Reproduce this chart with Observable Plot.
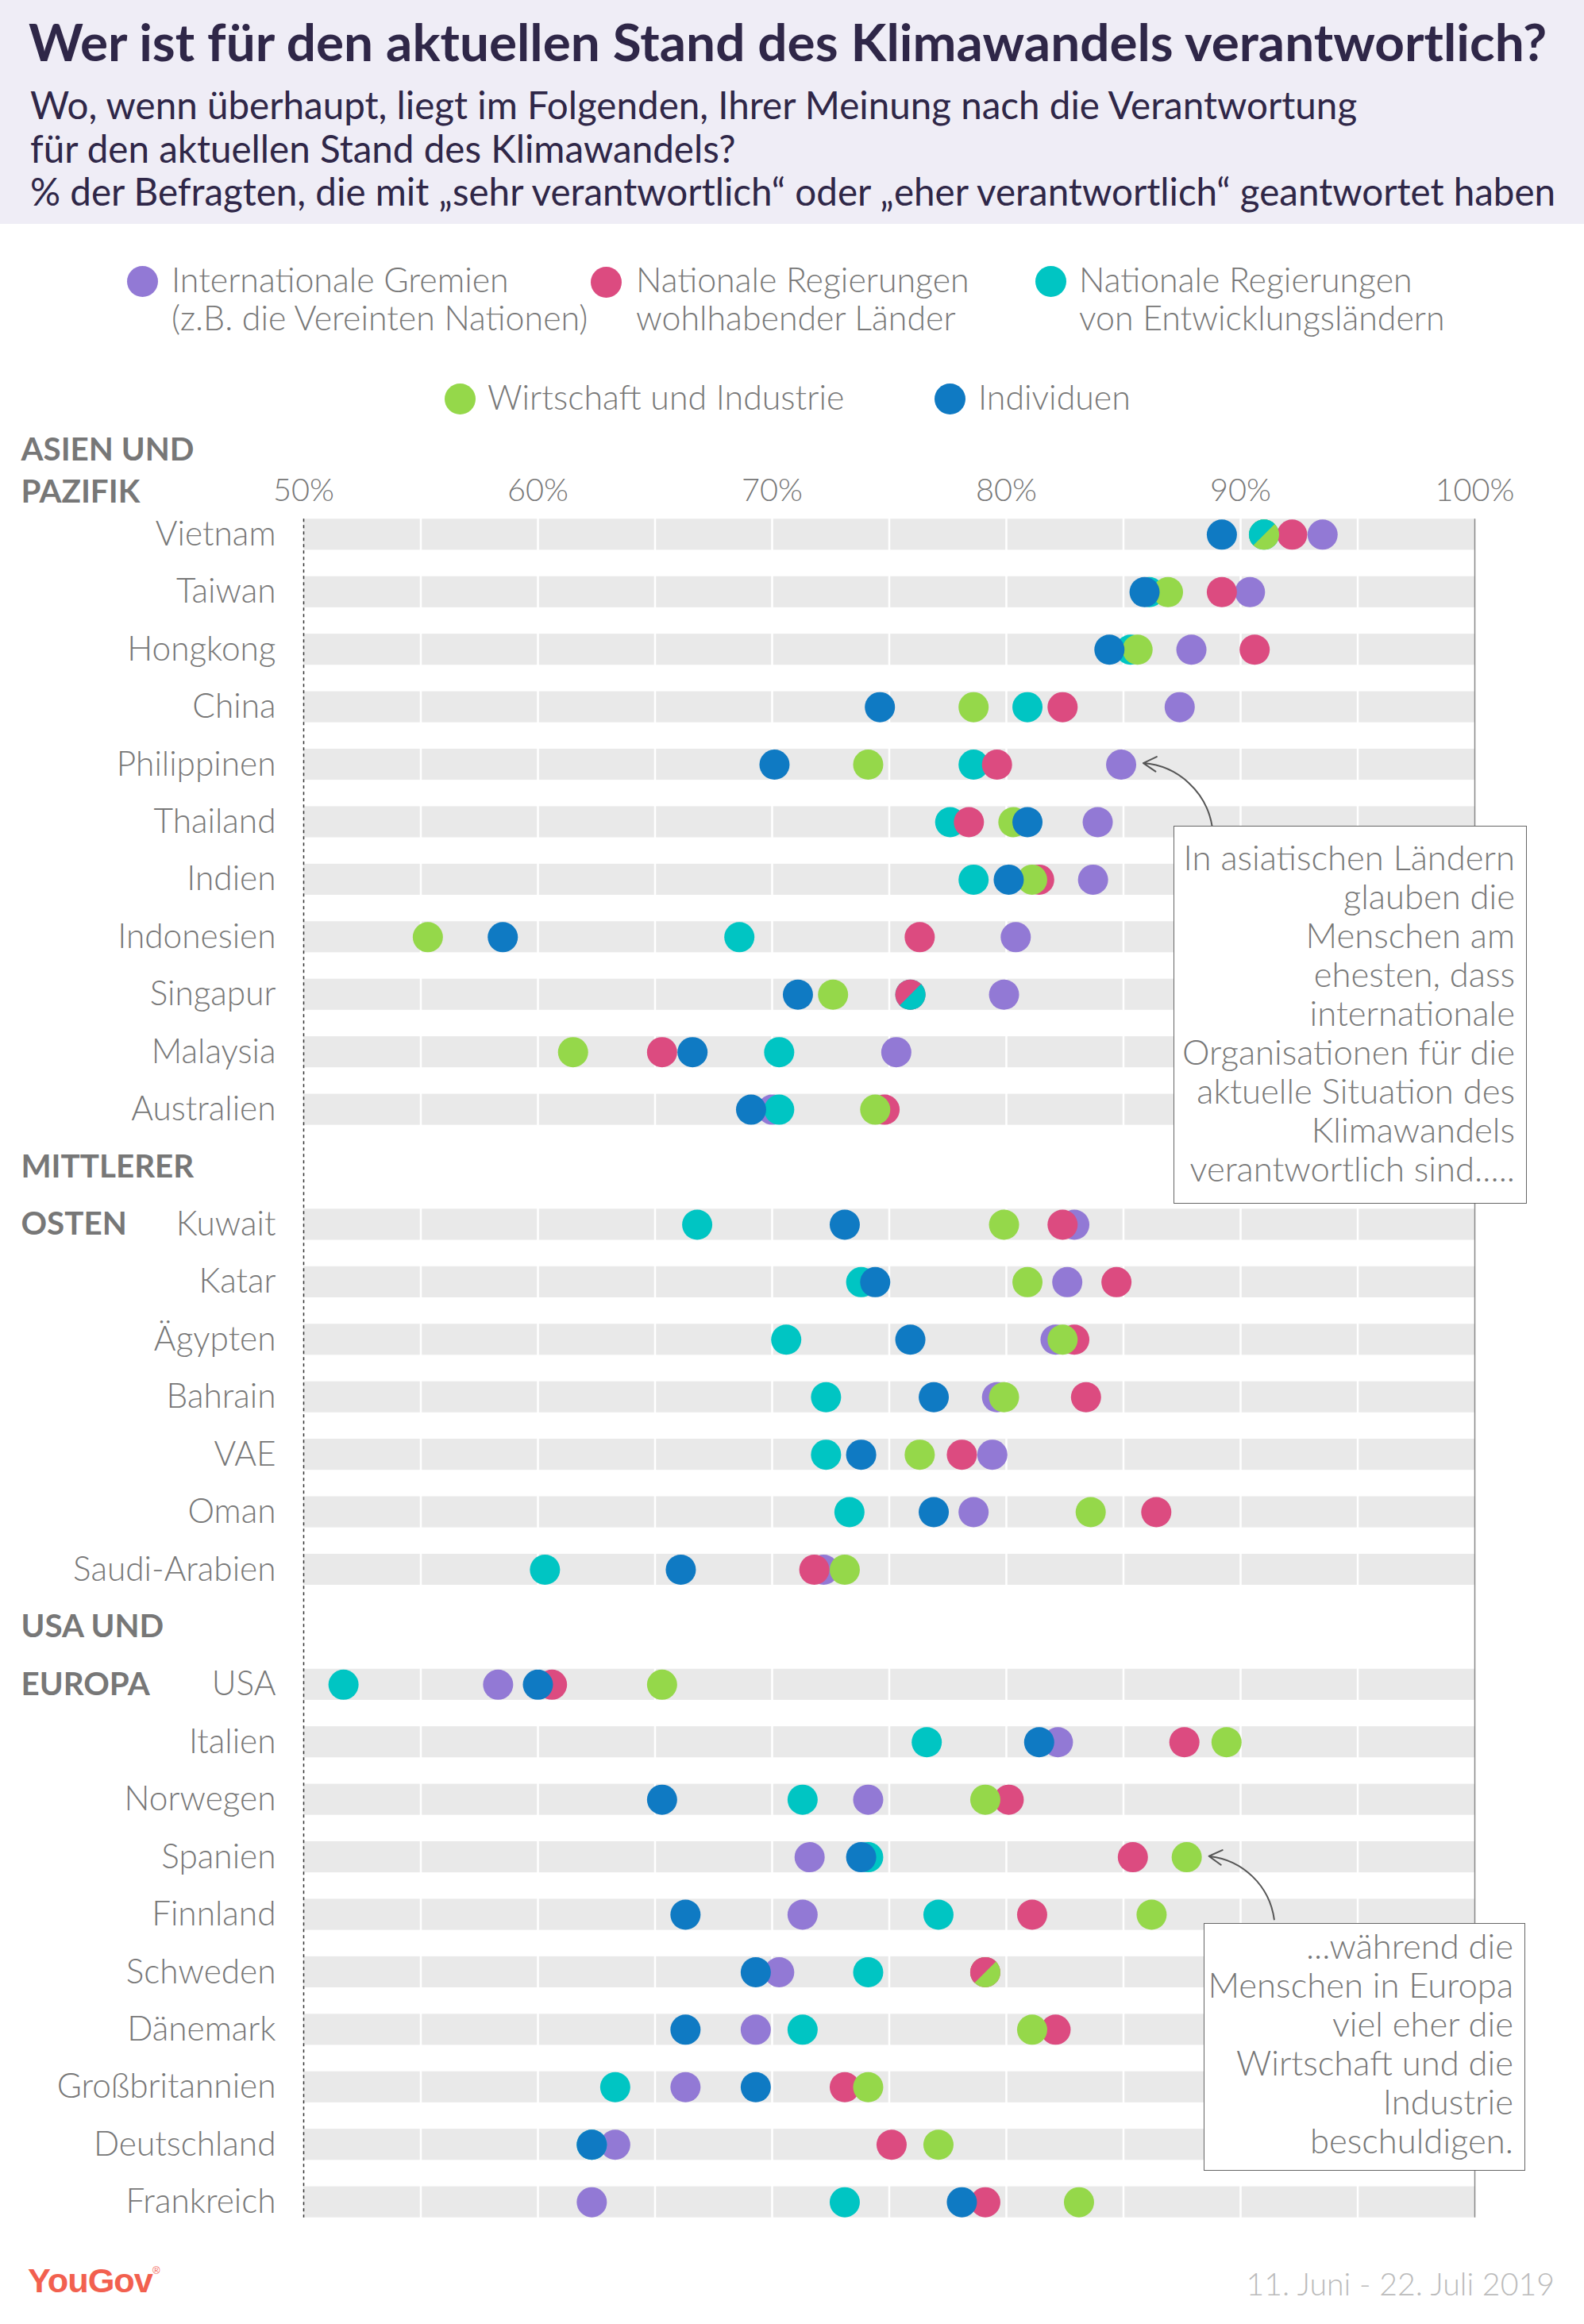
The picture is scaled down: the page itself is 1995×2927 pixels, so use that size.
<!DOCTYPE html>
<html>
<head>
<meta charset="utf-8">
<script src="https://cdn.jsdelivr.net/npm/d3@7"></script>
<script src="https://cdn.jsdelivr.net/npm/@observablehq/plot@0.6"></script>
<style>
html, body { margin: 0; padding: 0; background: #fff; }
#page { position: relative; width: 1995px; height: 2927px; overflow: hidden; font-family: Lato, sans-serif; }
.abs { position: absolute; white-space: nowrap; line-height: 1.2; }
.box { position: absolute; box-sizing: border-box; border: 1.5px solid #666; background: #fff; }
.box div { text-align: right; white-space: nowrap; line-height: 49px; color: #777; font-weight: 300; }
</style>
</head>
<body>
<div id="page"></div>
<script>
// ---------------- DATA ----------------
const asia = ["Vietnam", "Taiwan", "Hongkong", "China", "Philippinen", "Thailand", "Indien", "Indonesien", "Singapur", "Malaysia", "Australien"];
const middleEast = ["Kuwait", "Katar", "Ägypten", "Bahrain", "VAE", "Oman", "Saudi-Arabien"];
const europe = ["USA", "Italien", "Norwegen", "Spanien", "Finnland", "Schweden", "Dänemark", "Großbritannien", "Deutschland", "Frankreich"];
const countries = [...asia, ...middleEast, ...europe];

// values in % (same order as countries)
const international = [93.5, 90.4, 87.9, 87.4, 84.9, 83.9, 83.7, 80.4, 79.9, 75.3, 70.0, 82.9, 82.6, 82.1, 79.6, 79.4, 78.6, 72.2, 58.3, 82.2, 74.1, 71.6, 71.3, 70.3, 69.3, 66.3, 63.3, 62.3];
const wealthy       = [92.2, 89.2, 90.6, 82.4, 79.6, 78.4, 81.4, 76.3, 75.9, 65.3, 74.8, 82.4, 84.7, 82.9, 83.4, 78.1, 86.4, 71.8, 60.6, 87.6, 80.1, 85.4, 81.1, 79.1, 82.1, 73.1, 75.1, 79.1];
const developing    = [91.0, 86.1, 85.3, 80.9, 78.6, 77.6, 78.6, 68.6, 75.9, 70.3, 70.3, 66.8, 73.8, 70.6, 72.3, 72.3, 73.3, 60.3, 51.7, 76.6, 71.3, 74.1, 77.1, 74.1, 71.3, 63.3, 62.3, 73.1];
const business      = [91.0, 86.9, 85.6, 78.6, 74.1, 80.3, 81.1, 55.3, 72.6, 61.5, 74.4, 79.9, 80.9, 82.4, 79.9, 76.3, 83.6, 73.1, 65.3, 89.4, 79.1, 87.7, 86.2, 79.1, 81.1, 74.1, 77.1, 83.1];
const individuals   = [89.2, 85.9, 84.4, 74.6, 70.1, 80.9, 80.1, 58.5, 71.1, 66.6, 69.1, 73.1, 74.4, 75.9, 76.9, 73.8, 76.9, 66.1, 60.0, 81.4, 65.3, 73.8, 66.3, 69.3, 66.3, 69.3, 62.3, 78.1];

// series: drawing order (back to front)
const seriesKeys = ["international", "developing", "wealthy", "business", "individuals"];
const seriesValues = { international, developing, wealthy, business, individuals };
const seriesColors = { international: "#9279d5", wealthy: "#dc4b80", developing: "#00c5c3", business: "#95d84a", individuals: "#0f7ac3" };
// legend order and labels
const legendKeys = ["international", "wealthy", "developing", "business", "individuals"];
const legendLabels = {
  international: ["Internationale Gremien", "(z.B. die Vereinten Nationen)"],
  wealthy: ["Nationale Regierungen", "wohlhabender Länder"],
  developing: ["Nationale Regierungen", "von Entwicklungsländern"],
  business: ["Wirtschaft und Industrie"],
  individuals: ["Individuen"]
};

// ties drawn as split dots: [country, series shown as half dot, which half]
const splitDots = [["Vietnam", "developing", "ul"], ["Singapur", "developing", "lr"], ["Schweden", "wealthy", "ul"]];

const groupTitle = ["ASIEN UND", "PAZIFIK"];
const groupLabels = [["MITTLERER", "gap1"], ["OSTEN", "Kuwait"], ["USA UND", "gap2"], ["EUROPA", "USA"]];
const xDomain = [50, 100];
const axisTicks = [50, 60, 70, 80, 90, 100];
const gridTicks = [55, 60, 65, 70, 75, 80, 85, 90, 95];

const title = "Wer ist für den aktuellen Stand des Klimawandels verantwortlich?";
const subtitle = [
  "Wo, wenn überhaupt, liegt im Folgenden, Ihrer Meinung nach die Verantwortung",
  "für den aktuellen Stand des Klimawandels?",
  "% der Befragten, die mit „sehr verantwortlich“ oder „eher verantwortlich“ geantwortet haben"
];
const note1 = ["In asiatischen Ländern", "glauben die", "Menschen am", "ehesten, dass", "internationale", "Organisationen für die", "aktuelle Situation des", "Klimawandels", "verantwortlich sind....."];
const note2 = ["...während die", "Menschen in Europa", "viel eher die", "Wirtschaft und die", "Industrie", "beschuldigen."];
const dateText = "11. Juni - 22. Juli 2019";

// ---------------- LAYOUT HELPERS ----------------
const FONT = "Lato";
const page = document.getElementById("page");
const ctx = document.createElement("canvas").getContext("2d");
function fit(text, weight, target, family = FONT) {
  ctx.font = `${weight} 100px ${family}`;
  return 100 * target / ctx.measureText(text).width;
}
const titleFS = fit(title, 700, 1917);
const subFS = fit(subtitle[2], 400, 1928);
const legendFS = fit(legendLabels.international[1], 300, 526);
const labelFS = fit("Großbritannien", 300, 276);
const axisFS = fit("50%", 300, 77);
const groupFS = fit("ASIEN UND", 700, 218);
const boxFS = fit("Organisationen für die", 300, 420);
const dateFS = fit(dateText, 300, 391);
const logoFS = fit("YouGov", 700, 163, "Liberation Sans");

function addText(txt, o) {
  const d = document.createElement("div");
  d.className = "abs";
  d.textContent = txt;
  const fam = o.family || FONT;
  const asc = o.family ? 0.9465 : 0.987;
  d.style.fontFamily = fam;
  d.style.fontSize = o.size + "px";
  d.style.fontWeight = o.weight;
  d.style.color = o.color;
  d.style.top = (o.baseline - asc * o.size) + "px";
  if (o.right !== undefined) d.style.right = (1995 - o.right) + "px"; else d.style.left = o.left + "px";
  if (o.spacing) d.style.letterSpacing = o.spacing;
  page.appendChild(d);
  return d;
}

// header band
const hdr = document.createElement("div");
Object.assign(hdr.style, { position: "absolute", left: 0, top: 0, width: "1995px", height: "282px", background: "#efedf6" });
page.appendChild(hdr);
addText(title, { left: 36, baseline: 78, size: titleFS, weight: 700, color: "#2f2748" });
subtitle.forEach((s, i) => addText(s, { left: 38, baseline: [150, 205, 259][i], size: subFS, weight: 400, color: "#2f2748" }));

// legend
const legendPos = {
  international: { cx: 179, cy: 354, tx: 216, bl: [368, 416] },
  wealthy: { cx: 763, cy: 355, tx: 801, bl: [368, 416] },
  developing: { cx: 1323, cy: 354, tx: 1359, bl: [368, 416] },
  business: { cx: 579, cy: 502, tx: 614, bl: [516] },
  individuals: { cx: 1196, cy: 502, tx: 1232, bl: [516] }
};
legendKeys.forEach(k => {
  const p = legendPos[k];
  const c = document.createElement("div");
  Object.assign(c.style, { position: "absolute", left: (p.cx - 19.5) + "px", top: (p.cy - 19.5) + "px", width: "39px", height: "39px", borderRadius: "50%", background: seriesColors[k] });
  page.appendChild(c);
  legendLabels[k].forEach((line, i) => addText(line, { left: p.tx, baseline: p.bl[i], size: legendFS, weight: 300, color: "#777" }));
});

// ---------------- CHART ----------------
const GAP = { gap1: "\u2060gap1", gap2: "\u2060gap2" };
const rows = [...asia, GAP.gap1, ...middleEast, GAP.gap2, ...europe];
const dots = seriesKeys.flatMap(k => countries.map((c, i) => ({ country: c, series: k, value: seriesValues[k][i] })));
const splits = splitDots.map(([c, k, half]) => ({ country: c, series: k, half, value: seriesValues[k][countries.indexOf(c)] }));
const groups = groupLabels.map(([label, row]) => ({ label, row: GAP[row] || row }));

const SPLIT = -Math.PI / 4;
const halfSymbol = ccw => ({
  draw(context, size) {
    const r = Math.sqrt(size / Math.PI);
    context.moveTo(r * Math.cos(SPLIT), r * Math.sin(SPLIT));
    context.arc(0, 0, r, SPLIT, SPLIT + Math.PI, ccw);
    context.closePath();
  }
});

const PAD = 33.3;   // outer band padding in px (first/last band edge)
const DOT_R = 19;
const val = (k, c) => seriesValues[k][countries.indexOf(c)];
const arrows = [
  { x1: 88.75, y1: "Thailand", x2: val("international", "Philippinen"), y2: "Philippinen" },
  { x1: 91.4, y1: "Finnland", x2: val("business", "Spanien"), y2: "Spanien" }
];

const chart = Plot.plot({
  width: 1995,
  height: 2286,
  marginLeft: 382,
  marginRight: 138,
  marginTop: 80,
  marginBottom: 0,
  x: { domain: xDomain, axis: null },
  y: { domain: rows, padding: 0.46, round: false, axis: null },
  color: { domain: seriesKeys, range: seriesKeys.map(k => seriesColors[k]) },
  style: { fontFamily: FONT, color: "#777", background: "transparent", overflow: "visible" },
  marks: [
    Plot.barX(countries, { x1: xDomain[0], x2: xDomain[1], y: d => d, fill: "#e9e9e9" }),
    Plot.ruleX(gridTicks, { stroke: "#fff", strokeWidth: 2.5 }),
    Plot.ruleX([xDomain[0]], { stroke: "#333", strokeWidth: 1.5, strokeDasharray: "4,4", insetTop: PAD, insetBottom: PAD }),
    Plot.ruleX([xDomain[1]], { stroke: "#888", strokeWidth: 1.5, insetTop: PAD, insetBottom: PAD }),
    Plot.axisX({ anchor: "top", ticks: axisTicks, tickFormat: d => d + "%", tickSize: 0, tickPadding: 2, lineAnchor: "middle", fontSize: axisFS, fontWeight: 300, fill: "#777", label: null }),
    Plot.axisY({ anchor: "left", tickSize: 0, tickPadding: 35, tickFormat: d => d.startsWith("\u2060") ? "" : d, fontSize: labelFS, fontWeight: 300, fill: "#777", label: null }),
    Plot.text(groups, { y: "row", text: "label", frameAnchor: "left", dx: -356, textAnchor: "start", fontWeight: 700, fontSize: groupFS, fill: "#777" }),
    Plot.text([groupTitle[0]], { frameAnchor: "top-left", lineAnchor: "middle", dx: -356, dy: -53.5, textAnchor: "start", fontWeight: 700, fontSize: groupFS, fill: "#777" }),
    Plot.text([groupTitle[1]], { frameAnchor: "top-left", lineAnchor: "middle", dx: -356, dy: 0, textAnchor: "start", fontWeight: 700, fontSize: groupFS, fill: "#777" }),
    Plot.dot(dots, { x: "value", y: "country", fill: "series", r: DOT_R }),
    Plot.dot(splits.filter(d => d.half === "ul"), { x: "value", y: "country", fill: "series", r: DOT_R, symbol: halfSymbol(true) }),
    Plot.dot(splits.filter(d => d.half === "lr"), { x: "value", y: "country", fill: "series", r: DOT_R, symbol: halfSymbol(false) }),
    Plot.arrow(arrows, { x1: "x1", y1: "y1", x2: "x2", y2: "y2", bend: -45, stroke: "#555", strokeWidth: 2, headLength: 14, insetEnd: 28, insetStart: -6 })
  ]
});
chart.style.position = "absolute";
chart.style.left = "0px";
chart.style.top = "540px";
page.appendChild(chart);

// annotation boxes
function addBox(lines, { left, top, width, height, firstBaseline }) {
  const b = document.createElement("div");
  b.className = "box";
  Object.assign(b.style, { left: left + "px", top: top + "px", width: width + "px", height: height + "px", paddingRight: "14px", fontFamily: FONT, fontSize: boxFS + "px" });
  const padTop = firstBaseline - 1.5 - ((49 - 1.2 * boxFS) / 2 + 0.987 * boxFS);
  b.style.paddingTop = padTop + "px";
  lines.forEach(l => { const d = document.createElement("div"); d.textContent = l; b.appendChild(d); });
  page.appendChild(b);
}
addBox(note1, { left: 1478, top: 1040, width: 445, height: 476, firstBaseline: 57 });
addBox(note2, { left: 1516, top: 2422, width: 405, height: 312, firstBaseline: 46 });

// footer
const logo = addText("YouGov", { left: 35, baseline: 2887, size: logoFS, weight: 700, color: "#f2604f", family: "Liberation Sans", spacing: "-1px" });
const reg = document.createElement("sup");
reg.textContent = "®";
Object.assign(reg.style, { fontSize: (logoFS * 0.3) + "px", fontWeight: 400, verticalAlign: "top", position: "relative", top: "6px" });
logo.appendChild(reg);
addText(dateText, { right: 1958, baseline: 2891, size: dateFS, weight: 300, color: "#bbb" });
</script>
</body>
</html>
